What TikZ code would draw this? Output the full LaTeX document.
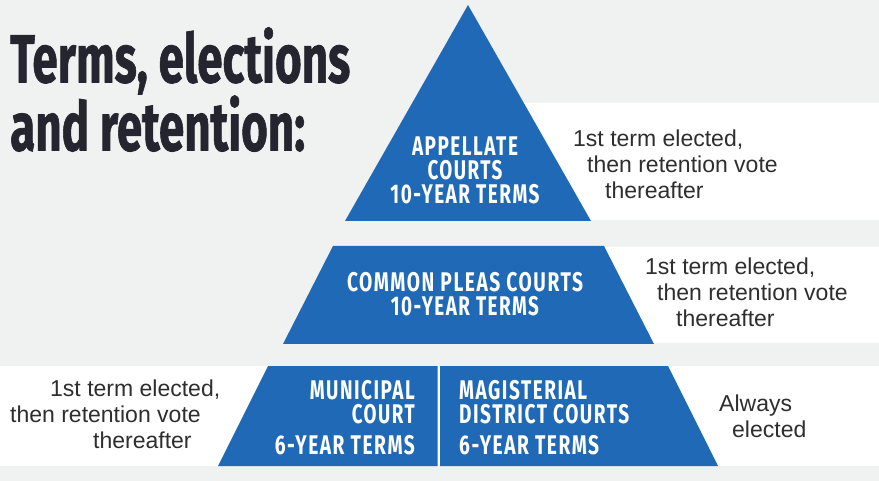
\documentclass[tikz,border=0pt]{standalone}
\usepackage{fontspec}
\usepackage{graphicx}
\setmainfont{Liberation Sans}
\newfontfamily\headfont[BoldFeatures={FakeBold=1.2}]{Fira Sans}
\newfontfamily\tierfont[LetterSpace=8]{Fira Sans}
\usetikzlibrary{positioning}
\definecolor{courtblue}{HTML}{1F69B7}
\definecolor{paper}{HTML}{F0F1F1}
\definecolor{ink}{HTML}{25252F}
\definecolor{notegray}{HTML}{2E2E2E}
\newcommand{\fitw}[2]{\resizebox{#1pt}{\height}{#2}}
\tikzset{
        tier/.style = {fill=courtblue},
        band/.style = {fill=white},
        headline/.style = {text=ink, inner sep=0pt, align=left,
            font=\headfont\bfseries\fontsize{68}{61}\selectfont},
        tierlabel/.style = {text=white, inner sep=0pt,
            font=\tierfont\bfseries\fontsize{27}{24}\selectfont},
        note/.style = {text=notegray, inner sep=0pt, align=left,
            font=\fontsize{23}{26}\selectfont},
    }

\begin{document}
\begin{tikzpicture}[x=1pt,y=-1pt]
    \useasboundingbox (0,0) rectangle (879,481);
    \fill[paper] (0,0) rectangle (879,481);

    % white bands behind the notes
    \fill[band] (520,103) rectangle (879,220);
    \fill[band] (600,247) rectangle (879,343);
    \fill[band] (0,366) rectangle (879,466);

    % the pyramid
    \fill[tier] (468,5) -- (591,221) -- (345,221) -- cycle;
    \fill[tier] (333,246) -- (604,246) -- (654,344) -- (283,344) -- cycle;
    \fill[tier] (268,366) -- (437.5,366) -- (437.5,466) -- (218,466) -- cycle;
    \fill[tier] (440,366) -- (668,366) -- (718,466) -- (440,466) -- cycle;

    \node[headline, anchor=north west] (title) at (10,27)
        {\fitw{340}{Terms, elections}\\\fitw{295}{and retention:}};

    \node[tierlabel, anchor=north, align=center] (appellate) at (465,137)
        {\fitw{106}{APPELLATE}\\\fitw{75}{COURTS}\\\fitw{149}{10-YEAR TERMS}};
    \node[tierlabel, anchor=north, align=center] (pleas) at (465,272)
        {\fitw{236}{COMMON PLEAS COURTS}\\\fitw{148}{10-YEAR TERMS}};
    \node[tierlabel, anchor=north east, align=right] (municipal) at (415,380)
        {\fitw{105}{MUNICIPAL}\\\fitw{63}{COURT}\\[7pt]\fitw{140}{6-YEAR TERMS}};
    \node[tierlabel, anchor=north west, align=left] (magisterial) at (459,380)
        {\fitw{128}{MAGISTERIAL}\\\fitw{170}{DISTRICT COURTS}\\[7pt]\fitw{140}{6-YEAR TERMS}};

    \node[note, anchor=north west] (appnote) at (573,130)
        {1st term elected,\\\hspace*{14pt}then retention vote\\\hspace*{32pt}thereafter};
    \node[note, anchor=north west] (pleasnote) at (645,258)
        {1st term elected,\\\hspace*{12pt}then retention vote\\\hspace*{31pt}thereafter};
    \node[note, anchor=north west] (munote) at (10,380)
        {\hspace*{40pt}1st term elected,\\then retention vote\\\hspace*{83pt}thereafter};
    \node[note, anchor=north west] (magnote) at (719,395)
        {Always\\\hspace*{13pt}elected};
\end{tikzpicture}
\end{document}
